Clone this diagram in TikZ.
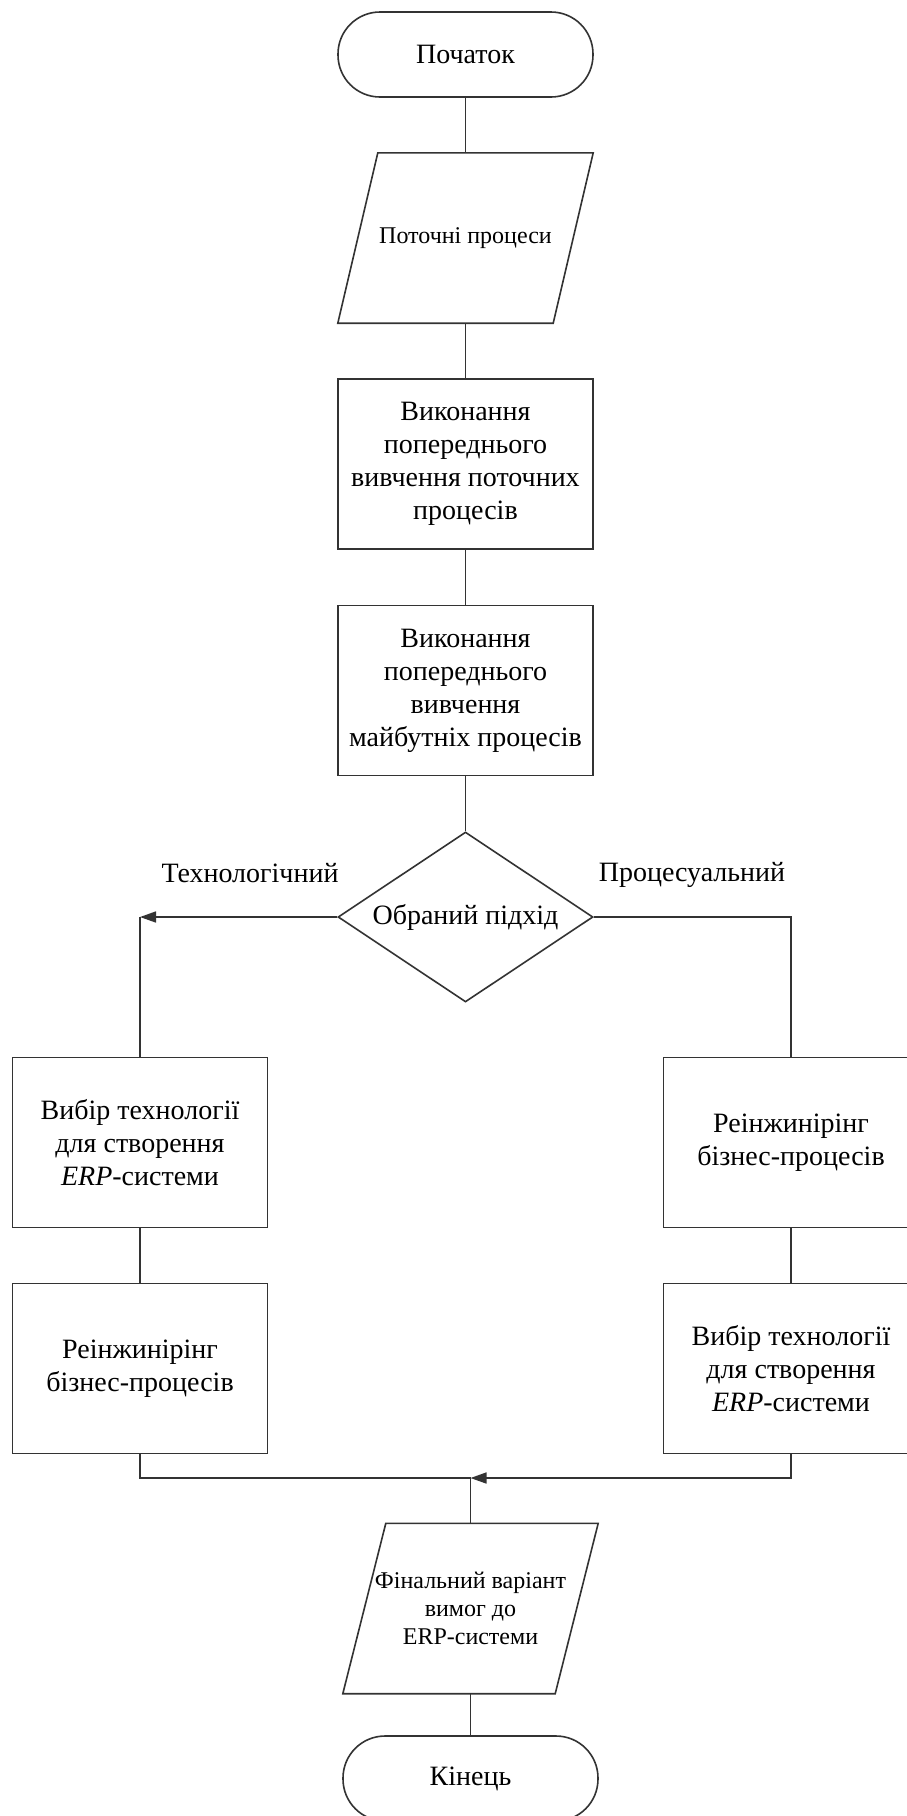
\documentclass[tikz,border=0pt]{standalone}
\usepackage{fontspec}
\setmainfont{Liberation Serif}
\usetikzlibrary{shapes.geometric,arrows.meta}
\begin{document}
\begin{tikzpicture}[x=1pt,y=-1pt,
  every node/.style={font=\fontsize{28}{33}\selectfont, inner sep=0pt, align=center, text=black},
  ln/.style={line width=1.6pt, draw=black!80},
  boxnode/.style={ln, rectangle, minimum width=255pt, minimum height=170pt},
  termnode/.style={ln, rectangle, rounded corners=42pt, minimum width=255pt, minimum height=85pt},
  ionode/.style={rectangle, minimum width=255pt, minimum height=170pt, font=\fontsize{24}{28}\selectfont},
  decnode/.style={ln, diamond, aspect=1.5, minimum width=255pt, minimum height=170pt},
  arr/.style={ln, -{Triangle[length=16pt,width=11pt]}}
]
\useasboundingbox (0,0) rectangle (907,1816);
\clip (0,0) rectangle (907,1816);
\fill[white] (0,0) rectangle (907,1816);

% main column
\node[termnode] (t1) at (465.5,54.5) {Початок};
\node[ionode] (p1) at (465.5,238) {Поточні процеси};
\draw[ln] ([xshift=40pt]p1.north west) -- (p1.north east) -- ([xshift=-40pt]p1.south east) -- (p1.south west) -- cycle;
\node[boxnode] (b1) at (465.5,464) {Виконання\\попереднього\\вивчення поточних\\процесів};
\node[boxnode] (b2) at (465.5,690.5) {Виконання\\попереднього\\вивчення\\майбутніх процесів};
\node[decnode] (d) at (465.5,917) {Обраний підхід};

\node (lt) at (250,873) {Технологічний};
\node (lp) at (692,875) {Процесуальний};

% branches
\coordinate (jl) at (140,917);
\node[boxnode] (l1) at (140,1142.5) {Вибір технології\\для створення\\\textit{ERP}-системи};
\node[boxnode] (l2) at (140,1368.5) {Реінжинірінг\\бізнес-процесів};
\node[boxnode] (r1) at (791,1142.5) {Реінжинірінг\\бізнес-процесів};
\node[boxnode] (r2) at (791,1368.5) {Вибір технології\\для створення\\\textit{ERP}-системи};

\coordinate (jb) at (470.5,1478);
\node[ionode] (p2) at (470.5,1608.5) {Фінальний варіант\\вимог до\\ERP-системи};
\draw[ln] ([xshift=43pt]p2.north west) -- (p2.north east) -- ([xshift=-43pt]p2.south east) -- (p2.south west) -- cycle;
\node[termnode] (t2) at (470.5,1778.5) {Кінець};

% connectors
\draw[ln] (t1.south) -- (p1.north);
\draw[ln] (p1.south) -- (b1.north);
\draw[ln] (b1.south) -- (b2.north);
\draw[ln] (b2.south) -- (d.north);
\draw[arr] (d.west) -- (jl);
\draw[ln] (jl) -- (l1.north);
\draw[ln] (d.east) -| (r1.north);
\draw[ln] (l1.south) -- (l2.north);
\draw[ln] (r1.south) -- (r2.north);
\draw[ln] (l2.south) |- (jb);
\draw[arr] (r2.south) |- (jb);
\draw[ln] (jb) -- (p2.north);
\draw[ln] (p2.south) -- (t2.north);
\end{tikzpicture}
\end{document}
